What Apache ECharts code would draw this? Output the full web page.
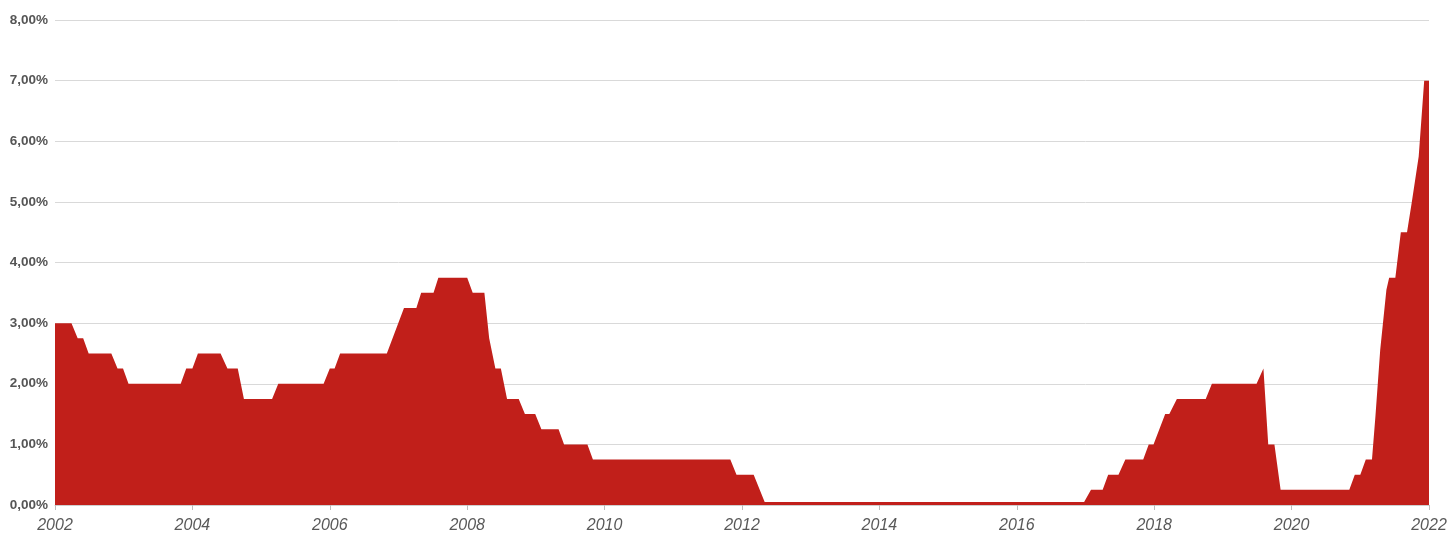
<!DOCTYPE html>
<html>
<head>
<meta charset="utf-8">
<script src="https://cdn.jsdelivr.net/npm/echarts@6/dist/echarts.min.js"></script>
<style>
  html, body { margin: 0; padding: 0; background: #fff; }
  #chart { width: 1451px; height: 537px; }
</style>
</head>
<body>
<div id="chart"></div>
<script>
// time as decimal year, rate in %
const years = [
  2002.00, 2002.24, 2002.33, 2002.41, 2002.49, 2002.82, 2002.91, 2002.99, 2003.07, 2003.83,
  2003.91, 2004.00, 2004.08, 2004.41, 2004.51, 2004.66, 2004.75, 2005.16, 2005.25, 2005.91,
  2006.00, 2006.07, 2006.15, 2006.83, 2007.08, 2007.26, 2007.33, 2007.51, 2007.58, 2008.00,
  2008.08, 2008.25, 2008.32, 2008.41, 2008.49, 2008.58, 2008.75, 2008.84, 2008.99, 2009.08,
  2009.33, 2009.41, 2009.75, 2009.83, 2011.83, 2011.92, 2012.17, 2012.33, 2016.98, 2017.08,
  2017.25, 2017.33, 2017.48, 2017.58, 2017.84, 2017.92, 2017.99, 2018.16, 2018.22, 2018.33,
  2018.75, 2018.84, 2019.49, 2019.59, 2019.66, 2019.75, 2019.84, 2020.84, 2020.92, 2021.00,
  2021.08, 2021.17, 2021.22, 2021.29, 2021.38, 2021.42, 2021.51, 2021.59, 2021.68, 2021.75,
  2021.85, 2021.93, 2022.00
]
const rates = [
  3.00, 3.00, 2.75, 2.75, 2.50, 2.50, 2.25, 2.25, 2.00, 2.00,
  2.25, 2.25, 2.50, 2.50, 2.25, 2.25, 1.75, 1.75, 2.00, 2.00,
  2.25, 2.25, 2.50, 2.50, 3.25, 3.25, 3.50, 3.50, 3.75, 3.75,
  3.50, 3.50, 2.75, 2.25, 2.25, 1.75, 1.75, 1.50, 1.50, 1.25,
  1.25, 1.00, 1.00, 0.75, 0.75, 0.50, 0.50, 0.05, 0.05, 0.25,
  0.25, 0.50, 0.50, 0.75, 0.75, 1.00, 1.00, 1.50, 1.50, 1.75,
  1.75, 2.00, 2.00, 2.25, 1.00, 1.00, 0.25, 0.25, 0.50, 0.50,
  0.75, 0.75, 1.46, 2.56, 3.55, 3.75, 3.75, 4.50, 4.50, 5.00,
  5.75, 7.00, 7.00
]
const yTicks = [0, 1, 2, 3, 4, 5, 6, 7, 8]

const chart = echarts.init(document.getElementById('chart'))

chart.setOption({
  animation: false,
  grid: { left: 55, right: 22, top: 20, bottom: 32 },
  xAxis: {
    type: 'value',
    min: 2002,
    max: 2022,
    interval: 2,
    axisLine: { show: true, lineStyle: { color: '#cfcfcf' } },
    axisTick: { show: true, length: 5, lineStyle: { color: '#bdbdbd' } },
    splitLine: { show: false },
    axisLabel: {
      margin: 13,
      color: '#595959',
      fontSize: 16,
      fontStyle: 'italic',
      fontFamily: '"Liberation Sans", Arial, sans-serif',
      formatter: v => String(v)
    }
  },
  yAxis: {
    type: 'value',
    min: yTicks[0],
    max: yTicks[yTicks.length - 1],
    interval: 1,
    axisLine: { show: false },
    axisTick: { show: false },
    splitLine: { lineStyle: { color: '#d9d9d9', width: 1 } },
    axisLabel: {
      margin: 7,
      color: '#555',
      fontSize: 13.5,
      fontWeight: 'bold',
      fontFamily: '"Liberation Sans", Arial, sans-serif',
      formatter: v => v.toFixed(2).replace('.', ',') + '%'
    }
  },
  series: [{
    type: 'line',
    data: years.map((y, i) => [y, rates[i]]),
    symbol: 'none',
    lineStyle: { width: 0 },
    areaStyle: { color: '#C11F1A', opacity: 1 },
    z: 1
  }]
})
</script>
</body>
</html>
